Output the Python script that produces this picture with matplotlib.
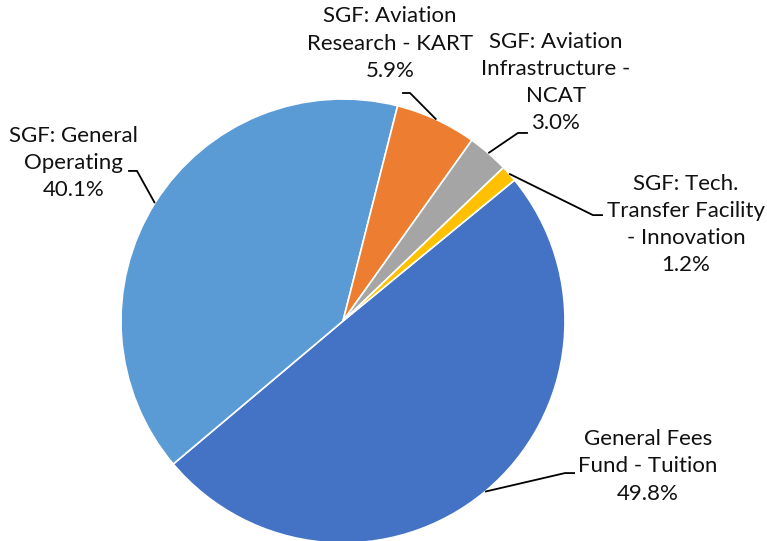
import numpy as np
import matplotlib
matplotlib.use("Agg")
import matplotlib.pyplot as plt

plt.rcParams['font.family'] = ['Lato', 'DejaVu Sans']

# Slices in clockwise order, starting from the Tuition slice
labels = ["General Fees\nFund - Tuition", "SGF: General\nOperating",
          "SGF: Aviation\nResearch - KART", "SGF: Aviation\nInfrastructure -\nNCAT",
          "SGF: Tech.\nTransfer Facility\n- Innovation"]
shares = [49.8, 40.1, 5.9, 3.0, 1.2]
colors = ["#4472C4", "#5B9BD5", "#ED7D31", "#A5A5A5", "#FFC000"]

# label placement (pie radius = 1, centre at 0,0)
text_pos = [(1.374, -0.655), (-1.212, 0.712), (0.212, 1.250), (0.959, 1.075), (1.545, 0.435)]
elbows = [(1.000, -0.685), (-0.928, 0.676), (0.302, 1.027), (0.788, 0.847), (1.126, 0.477)]
ends = [(1.045, -0.685), (-0.968, 0.676), (0.266, 1.027), (0.833, 0.847), (1.171, 0.477)]

W, H = 767, 541
cx, cy, R = 343, 321, 222

fig = plt.figure(figsize=(W / 100, H / 100), dpi=100)
ax = fig.add_axes([0, 0, 1, 1])

wedges, _ = ax.pie(shares, colors=colors, startangle=39.4, counterclock=False,
                   radius=1, center=(0, 0), frame=True,
                   wedgeprops=dict(edgecolor='white', linewidth=1.2))
ax.set_xlim(-cx / R, (W - cx) / R)
ax.set_ylim(-(H - cy) / R, cy / R)
ax.set_aspect('equal')
ax.axis('off')

for w, lab, val, tp, el, en in zip(wedges, labels, shares, text_pos, elbows, ends):
    mid = np.deg2rad((w.theta1 + w.theta2) / 2)
    x0, y0 = np.cos(mid), np.sin(mid)
    ax.plot([x0, el[0], en[0]], [y0, el[1], en[1]], color='black', lw=1.3,
            solid_capstyle='butt', zorder=3)
    ax.text(tp[0], tp[1], f"{lab}\n{val:.1f}%", ha='center', va='center',
            fontsize=16, color='#111111', linespacing=1.45)

fig.savefig("out.png", dpi=100)
